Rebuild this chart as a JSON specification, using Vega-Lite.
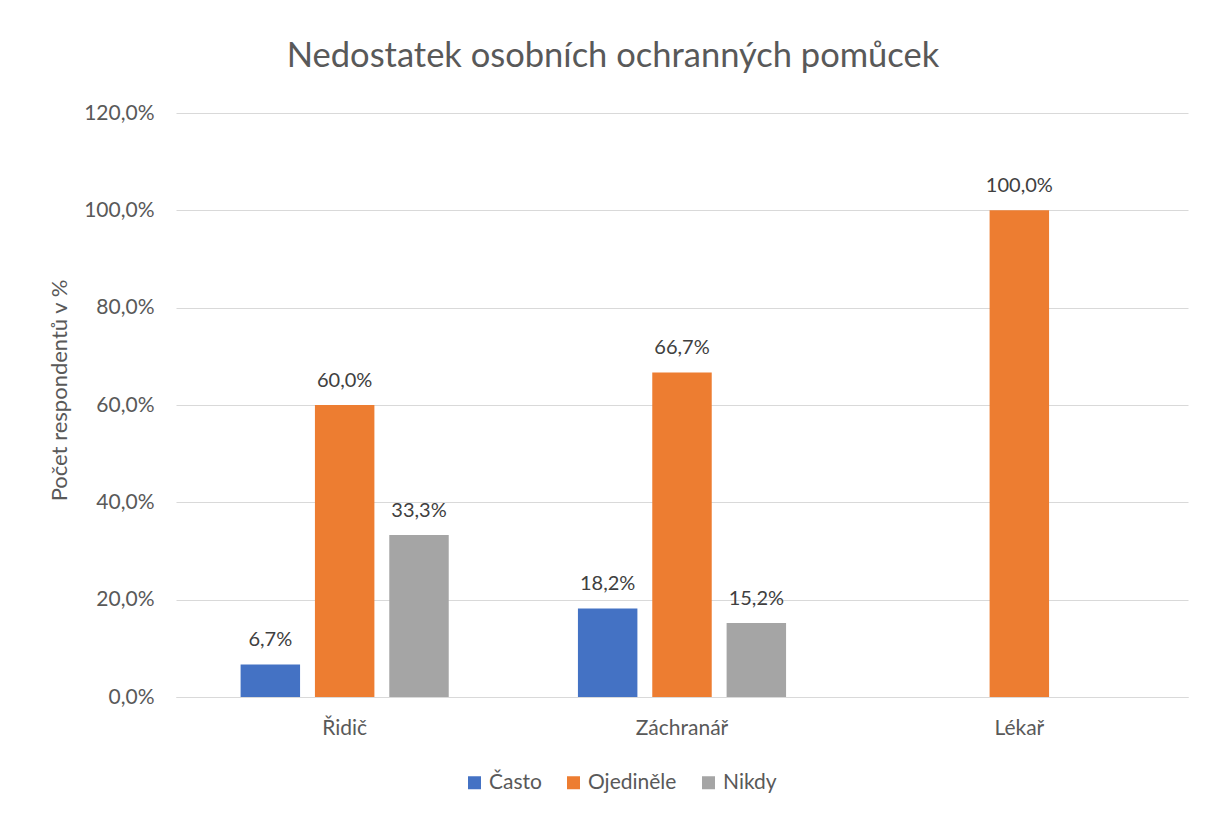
{
  "$schema": "https://vega.github.io/schema/vega-lite/v6.json",
  "width": 1012,
  "height": 584,
  "autosize": {"type": "none"},
  "padding": {"left": 176, "top": 113, "right": 20, "bottom": 117},
  "background": "white",
  "config": {
    "font": "Lato",
    "view": {"stroke": null},
    "locale": {"number": {"decimal": ",", "thousands": " ", "grouping": [3], "currency": ["", " Kč"]}}
  },
  "title": {
    "text": "Nedostatek osobních ochranných pomůcek",
    "fontSize": 34.5,
    "fontWeight": "normal",
    "color": "#595959",
    "font": "Lato",
    "anchor": "middle",
    "dx": -69,
    "offset": 28
  },
  "data": {
    "values": [
      {"kategorie": "Řidič", "odpoved": "Často", "hodnota": 0.067},
      {"kategorie": "Řidič", "odpoved": "Ojediněle", "hodnota": 0.6},
      {"kategorie": "Řidič", "odpoved": "Nikdy", "hodnota": 0.333},
      {"kategorie": "Záchranář", "odpoved": "Často", "hodnota": 0.182},
      {"kategorie": "Záchranář", "odpoved": "Ojediněle", "hodnota": 0.667},
      {"kategorie": "Záchranář", "odpoved": "Nikdy", "hodnota": 0.152},
      {"kategorie": "Lékař", "odpoved": "Ojediněle", "hodnota": 1.0}
    ]
  },
  "encoding": {
    "x": {
      "field": "kategorie",
      "type": "nominal",
      "sort": ["Řidič", "Záchranář", "Lékař"],
      "scale": {"paddingInner": 0.383, "paddingOuter": 0.1915},
      "axis": {
        "title": null,
        "labelAngle": 0,
        "labelFontSize": 21,
        "labelColor": "#595959",
        "labelPadding": 20,
        "ticks": false,
        "domainColor": "#d9d9d9",
        "domainWidth": 1
      }
    },
    "xOffset": {
      "field": "odpoved",
      "type": "nominal",
      "sort": ["Často", "Ojediněle", "Nikdy"],
      "scale": {"paddingInner": 0.2, "paddingOuter": 0}
    },
    "y": {
      "field": "hodnota",
      "type": "quantitative",
      "scale": {"domain": [0, 1.2]},
      "axis": {
        "title": "Počet respondentů v %",
        "titleFontSize": 22,
        "titleFontWeight": "normal",
        "titleColor": "#595959",
        "titleX": -117,
        "titleY": 277,
        "titleAlign": "center",
        "titleBaseline": "middle",
        "format": ".1%",
        "values": [0, 0.2, 0.4, 0.6, 0.8, 1.0, 1.2],
        "labelFontSize": 21,
        "labelColor": "#595959",
        "labelPadding": 22,
        "ticks": false,
        "domain": false,
        "gridColor": "#d9d9d9",
        "gridWidth": 1
      }
    }
  },
  "layer": [
    {
      "mark": {"type": "bar"},
      "encoding": {
        "color": {
          "field": "odpoved",
          "type": "nominal",
          "sort": ["Často", "Ojediněle", "Nikdy"],
          "scale": {"domain": ["Často", "Ojediněle", "Nikdy"], "range": ["#4472C4", "#ED7D31", "#A5A5A5"]},
          "legend": {
            "title": null,
            "orient": "none",
            "direction": "horizontal",
            "legendX": 288,
            "legendY": 659,
            "symbolType": "square",
            "symbolSize": 169,
            "symbolStrokeWidth": 0,
            "symbolOpacity": 1,
            "labelFontSize": 21,
            "labelColor": "#595959",
            "labelOffset": 4,
            "columnPadding": 21
          }
        }
      }
    },
    {
      "mark": {"type": "text", "baseline": "alphabetic", "dy": -18, "fontSize": 20, "color": "#404040"},
      "encoding": {
        "text": {"field": "hodnota", "type": "quantitative", "format": ".1%"}
      }
    }
  ]
}
